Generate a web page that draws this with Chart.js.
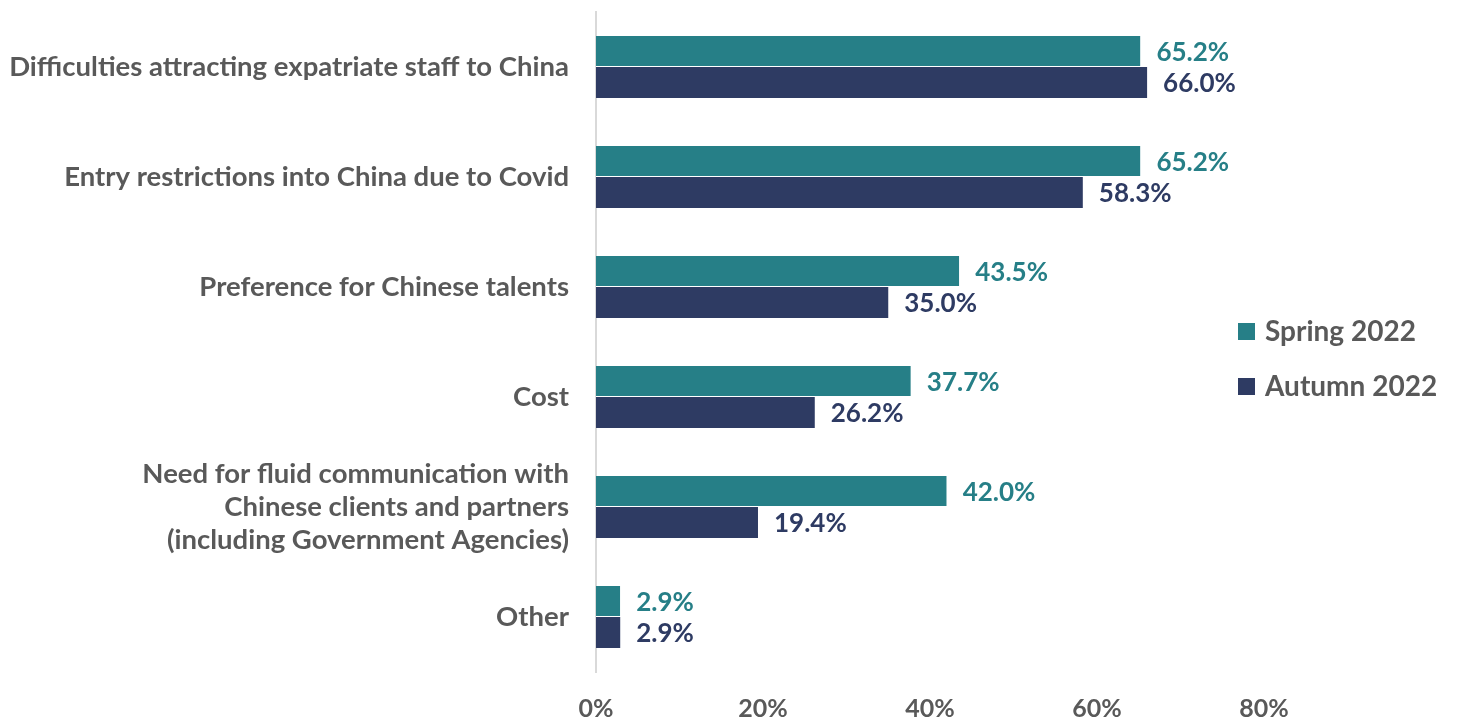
<!DOCTYPE html>
<html><head><meta charset="utf-8">
<script src="https://cdn.jsdelivr.net/npm/chart.js@4"></script>
<style>html,body{margin:0;padding:0;background:#fff}#wrap{width:1460px;height:722px}</style>
</head><body><div id="wrap"><canvas id="c" width="1460" height="722"></canvas></div>
<script>
const categories = [
  "Difficulties attracting expatriate staff to China",
  "Entry restrictions into China due to Covid",
  "Preference for Chinese talents",
  "Cost",
  ["Need for fluid communication with", "Chinese clients and partners", "(including Government Agencies)"],
  "Other"
];
const spring2022 = [65.2, 65.2, 43.5, 37.7, 42.0, 2.9];
const autumn2022 = [66.0, 58.3, 35.0, 26.2, 19.4, 2.9];
const seriesNames = ["Spring 2022", "Autumn 2022"];
const xTicks = [0, 20, 40, 60, 80];

const FONT = "Lato, sans-serif";
const GRAY = "#595959";
const TEAL = "#267F87";
const NAVY = "#2E3B63";

const labelPlugin = {
  id: 'vals',
  afterDatasetsDraw(chart) {
    const ctx = chart.ctx;
    ctx.save();
    ctx.font = "bold 26px " + FONT;
    ctx.textBaseline = 'middle';
    ctx.textAlign = 'left';
    chart.data.datasets.forEach((ds, i) => {
      const meta = chart.getDatasetMeta(i);
      ctx.fillStyle = ds.backgroundColor;
      meta.data.forEach((bar, j) => {
        ctx.fillText(ds.data[j].toFixed(1) + '%', bar.x + 16, bar.y + 1);
      });
    });
    ctx.restore();
  }
};
const legendPlugin = {
  id: 'customLegend',
  afterDraw(chart) {
    const ctx = chart.ctx;
    ctx.save();
    ctx.font = "bold 28px " + FONT;
    ctx.textBaseline = 'middle';
    ctx.textAlign = 'left';
    chart.data.datasets.forEach((ds, i) => {
      const cy = 332 + i * 55;
      ctx.fillStyle = ds.backgroundColor;
      ctx.fillRect(1238, cy - 9, 17, 17);
      ctx.fillStyle = GRAY;
      ctx.fillText(ds.label, 1265, cy);
    });
    ctx.restore();
  }
};

new Chart(document.getElementById('c'), {
  type: 'bar',
  data: {
    labels: categories,
    datasets: [
      { label: seriesNames[0], data: spring2022, backgroundColor: TEAL, borderColor: '#ffffff', borderWidth: {bottom: 1}, borderSkipped: 'start' },
      { label: seriesNames[1], data: autumn2022, backgroundColor: NAVY }
    ]
  },
  options: {
    indexAxis: 'y',
    responsive: false,
    animation: false,
    devicePixelRatio: 1,
    layout: { padding: { top: 12, right: 196, left: 0, bottom: 0 } },
    categoryPercentage: 0.564,
    barPercentage: 1,
    plugins: { legend: { display: false }, tooltip: { enabled: false } },
    scales: {
      x: {
        min: 0, max: 80,
        afterBuildTicks(scale) { scale.ticks = xTicks.map(v => ({ value: v })); },
        grid: { display: false, drawTicks: false },
        border: { display: false },
        ticks: { callback: v => v + '%', color: GRAY, font: { family: FONT, size: 25, weight: 'bold' }, padding: 22, maxRotation: 0 },
        afterFit(scale) { scale.height = 50; scale.paddingLeft = 0; scale.paddingRight = 0; }
      },
      y: {
        grid: { display: false, drawTicks: false },
        border: { display: true, color: '#D9D9D9', width: 2 },
        ticks: { color: GRAY, font: { family: FONT, size: 27.5, weight: 'bold', lineHeight: 1.2 }, padding: 27 },
        afterFit(scale) { scale.width = 596; scale.paddingTop = 0; scale.paddingBottom = 0; }
      }
    }
  },
  plugins: [labelPlugin, legendPlugin]
});
</script>
</body></html>
